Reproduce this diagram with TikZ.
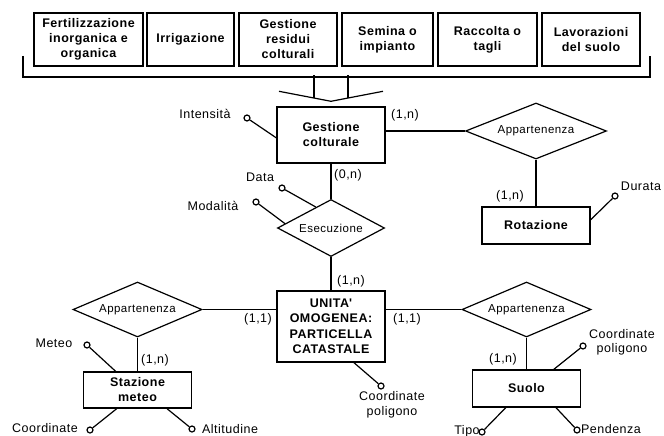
\documentclass[tikz,border=0pt]{standalone}
\usepackage{fontspec}
\setmainfont{Liberation Sans}
\newfontfamily\entfont[LetterSpace=4]{Liberation Sans}
\newfontfamily\lblfont[LetterSpace=4]{Liberation Sans}
\usetikzlibrary{shapes.geometric,calc}

\begin{document}
\begin{tikzpicture}[
    x=1pt, y=-1pt,
    entity/.style={rectangle, draw, line width=1.4pt, minimum width=108pt, inner sep=1pt, align=center, font=\entfont\bfseries\fontsize{12.5}{15}\selectfont},
    activity/.style={entity, minimum height=53pt},
    relation/.style={diamond, draw, line width=1.2pt, aspect=2.3, inner sep=0pt, font=\lblfont\fontsize{11.5}{13}\selectfont},
    attr/.style={circle, draw, line width=1.2pt, minimum size=6pt, inner sep=0pt},
    lbl/.style={inner sep=0pt, align=center, font=\lblfont\fontsize{12.5}{15}\selectfont},
    card/.style={lbl},
    link/.style={line width=1.2pt},
]
    \useasboundingbox (0,0) rectangle (664,436);

    % operazioni colturali
    \node[activity, minimum width=109pt] (fert) at (88.5,39.5) {Fertilizzazione\\inorganica e\\organica};
    \node[activity, minimum width=87pt] (irr) at (190.5,39.5) {Irrigazione};
    \node[activity, minimum width=98pt] (resid) at (288,39.5) {Gestione\\residui\\colturali};
    \node[activity, minimum width=91pt] (semina) at (387.5,39.5) {Semina o\\impianto};
    \node[activity, minimum width=99pt] (racc) at (487.5,39.5) {Raccolta o\\tagli};
    \node[activity, minimum width=98pt] (lavor) at (591,39.5) {Lavorazioni\\del suolo};

    \coordinate (brL) at (23,56);
    \coordinate (brR) at (650,56);
    \draw[link] (brL) -- ++(0,21) -| (brR);

    % entita' e relazioni
    \node[entity, minimum height=56pt] (gc) at (331,135) {Gestione\\colturale};
    \node[relation, minimum width=107pt, minimum height=57pt] (esec) at (331,228) {Esecuzione};
    \node[relation, minimum width=141pt, minimum height=56pt] (appRot) at (536,131) {Appartenenza};
    \node[entity, minimum height=37pt] (rot) at (536,225.5) {Rotazione};
    \node[entity, minimum height=71pt, font=\entfont\bfseries\fontsize{12.5}{15.5}\selectfont] (uo) at (331,326.5) {UNITA\textquotesingle\\OMOGENEA:\\PARTICELLA\\CATASTALE};
    \node[relation, minimum width=129pt, minimum height=55pt] (appMet) at (137.5,309.5) {Appartenenza};
    \node[entity, minimum height=36pt] (staz) at (137.5,390) {Stazione\\meteo};
    \node[relation, minimum width=129pt, minimum height=55pt] (appSuo) at (526.5,309.5) {Appartenenza};
    \node[entity, minimum height=37pt] (suolo) at (526.5,388.5) {Suolo};

    % freccia verso gestione colturale
    \coordinate (tip) at ($(gc.north)+(0,-5)$);
    \draw[link] ($(tip)+(-17,-26)$) -- ($(tip)+(-17,-3.3)$);
    \draw[link] ($(tip)+(17,-26)$) -- ($(tip)+(17,-3.3)$);
    \draw[link] ($(tip)+(-52,-10)$) -- (tip) -- ($(tip)+(52,-10)$);

    \draw[link] (gc) -- (esec);
    \draw[link] (esec) -- (uo);
    \draw[link] (appRot.west -| gc.east) -- (appRot.west);
    \draw[link] (appRot) -- (rot);
    \draw[link] (appMet.east) -- (appMet.east -| uo.west);
    \draw[link] (appMet) -- (staz);
    \draw[link] (appSuo.west -| uo.east) -- (appSuo.west);
    \draw[link] (appSuo) -- (suolo);

    % cardinalita'
    \node[card] (cGcRot) at (405,115) {(1,n)};
    \node[card] (cGcEse) at (348,175) {(0,n)};
    \node[card] (cRot) at (510,196) {(1,n)};
    \node[card] (cUoEse) at (351,281) {(1,n)};
    \node[card] (cUoMet) at (258,319) {(1,1)};
    \node[card] (cUoSuo) at (407,319) {(1,1)};
    \node[card] (cMet) at (155,360) {(1,n)};
    \node[card] (cSuo) at (503,359) {(1,n)};

    % attributi
    \node[attr] (intens) at (247,118) {};
    \draw[link] ($(gc.north west)!0.55!(gc.south west)$) -- (intens);
    \node[lbl] (intensL) at (205,114) {Intensità};

    \node[attr] (data) at (282,188) {};
    \draw[link] ($(esec.north)!0.28!(esec.west)$) -- (data);
    \node[lbl] (dataL) at (260,177) {Data};

    \node[attr] (modal) at (256,202) {};
    \draw[link] ($(esec.north)!0.85!(esec.west)$) -- (modal);
    \node[lbl] (modalL) at (213,206) {Modalità};

    \node[attr] (durata) at (615,196) {};
    \draw[link] ($(rot.north east)!0.35!(rot.south east)$) -- (durata);
    \node[lbl] (durataL) at (641,186) {Durata};

    \node[attr] (meteo) at (87,345) {};
    \draw[link] ($(staz.north west)!0.3!(staz.north east)$) -- (meteo);
    \node[lbl] (meteoL) at (54,343) {Meteo};

    \node[attr] (coordSt) at (90,430) {};
    \draw[link] ($(staz.south west)!0.31!(staz.south east)$) -- (coordSt);
    \node[lbl] (coordStL) at (45,428) {Coordinate};

    \node[attr] (altit) at (192,429) {};
    \draw[link] ($(staz.south west)!0.77!(staz.south east)$) -- (altit);
    \node[lbl] (altitL) at (230,429) {Altitudine};

    \node[attr] (coordUo) at (381,386) {};
    \draw[link] ($(uo.south west)!0.71!(uo.south east)$) -- (coordUo);
    \node[lbl] (coordUoL) at (392,405) {Coordinate\\poligono};

    \node[attr] (coordSu) at (583,346) {};
    \draw[link] ($(suolo.north west)!0.75!(suolo.north east)$) -- (coordSu);
    \node[lbl, font=\lblfont\fontsize{12.5}{14}\selectfont] (coordSuL) at (622,342) {Coordinate\\poligono};

    \node[attr] (tipo) at (482,432) {};
    \draw[link] ($(suolo.south west)!0.31!(suolo.south east)$) -- (tipo);
    \node[lbl] (tipoL) at (467,431) {Tipo};

    \node[attr] (pend) at (577,430) {};
    \draw[link] ($(suolo.south west)!0.77!(suolo.south east)$) -- (pend);
    \node[lbl] (pendL) at (611,429) {Pendenza};
\end{tikzpicture}
\end{document}
